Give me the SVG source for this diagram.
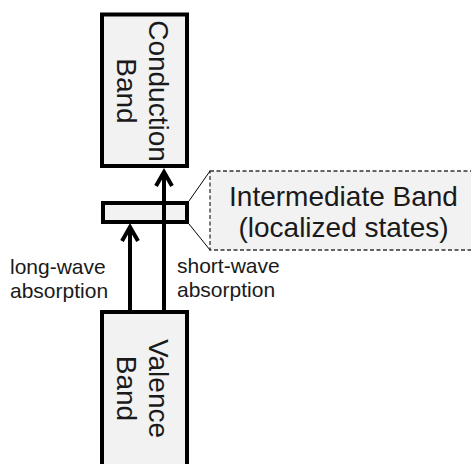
<svg xmlns="http://www.w3.org/2000/svg" width="471" height="464" viewBox="0 0 471 464">
  <style>
    .band { fill: #f2f2f2; stroke: #000; stroke-width: 4; }
    .big { font-family: "Liberation Sans", Arial, sans-serif; font-size: 28px; fill: #1a1a1a; text-anchor: middle; }
    .small { font-family: "Liberation Sans", Arial, sans-serif; font-size: 21px; fill: #1a1a1a; }
    .arrow { stroke: #000; stroke-width: 4; fill: none; marker-end: url(#chevron); }
    .leader { stroke: #000; stroke-width: 1; fill: none; }
    .callout { fill: #f2f2f2; stroke: #333; stroke-width: 1.3; stroke-dasharray: 4 2.5; }
  </style>
  <defs>
    <marker id="chevron" viewBox="-18 -10 22 20" markerWidth="22" markerHeight="20" refX="0" refY="0" orient="auto" markerUnits="userSpaceOnUse" overflow="visible">
      <path d="M-14,-8 L0,0 L-14,8" fill="none" stroke="#000" stroke-width="4"/>
    </marker>
  </defs>

  <!-- callout describing the intermediate band -->
  <g id="ib-callout">
    <rect class="callout" x="210" y="171" width="270" height="79"/>
    <line class="leader" x1="189" y1="201" x2="210" y2="171"/>
    <line class="leader" x1="189" y1="224" x2="210" y2="250"/>
    <text class="big" x="343.5" y="206">Intermediate Band</text>
    <text class="big" x="343.5" y="237">(localized states)</text>
  </g>

  <g id="conduction-band">
    <rect class="band" x="102" y="14.5" width="85" height="151.5"/>
    <g transform="translate(144.5,91) rotate(90)">
      <text class="big" x="0" y="-4.5">Conduction</text>
      <text class="big" x="0" y="27.5">Band</text>
    </g>
  </g>

  <g id="intermediate-band">
    <rect class="band" x="103" y="203" width="84" height="19"/>
  </g>

  <g id="valence-band">
    <rect class="band" x="102" y="312" width="85" height="170"/>
    <g transform="translate(144.5,388.5) rotate(90)">
      <text class="big" x="0" y="-4.5">Valence</text>
      <text class="big" x="0" y="27.5">Band</text>
    </g>
  </g>

  <g id="connectors">
    <line class="arrow" x1="130" y1="310" x2="130" y2="227"/>
    <line class="arrow" x1="164" y1="310" x2="164" y2="172"/>
  </g>

  <g id="labels">
    <text class="small" x="10" y="274">long-wave</text>
    <text class="small" x="10" y="298">absorption</text>
    <text class="small" x="177" y="273">short-wave</text>
    <text class="small" x="177" y="297">absorption</text>
  </g>
</svg>
